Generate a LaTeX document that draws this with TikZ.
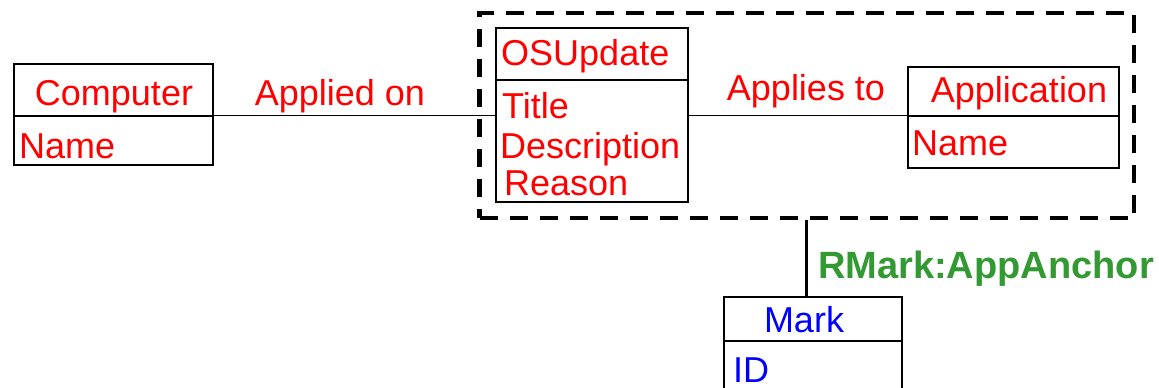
\documentclass[tikz,border=0pt]{standalone}
\usepackage{xcolor}
\usepackage{fontspec}
\setmainfont{Liberation Sans}
\usepackage{tikz}
\usetikzlibrary{calc}
\usetikzlibrary{fit}
\usetikzlibrary{positioning}
\definecolor{relgreen}{RGB}{51,153,51}
\tikzset{>=latex}
\tikzstyle{box} = [rectangle, draw=black, line width=1.2pt, inner sep=0pt]
\tikzstyle{lbl} = [inner sep=0pt, font=\fontsize{36}{38}\selectfont]
\tikzstyle{grp} = [rectangle, draw=black, line width=4.5pt, dash pattern=on 18pt off 12pt, inner sep=0pt]

\begin{document}
\begin{tikzpicture}[x=1pt, y=-1pt]
\useasboundingbox (0,0) rectangle (1159,388);
\node [box, fit={(14,64) (213,116)}] (comphead) {};
\node [box, fit={(14,116) (213,165)}] (compbody) {};
\node [box, fit={(496,28) (688,80)}] (updhead) {};
\node [box, fit={(496,80) (688,202)}] (updbody) {};
\node [box, fit={(908,67) (1119,116)}] (apphead) {};
\node [box, fit={(908,116) (1119,168)}] (appbody) {};
\node [box, fit={(724,297) (902,341)}] (markhead) {};
\node [box, fit={(724,341) (902,430)}] (markbody) {};
\node [grp, fit={(479.5,13) (1134,218)}] (upgrp) {};

\node [lbl, red, anchor=base] (comptxt) at (114,105) {Computer};
\node [lbl, red, anchor=base west] (compname) at (19,158) {Name};
\node [lbl, red, anchor=base west] (updtxt) at (501,65) {OSUpdate};
\node [lbl, red, anchor=base west] (title) at (502,118) {Title};
\node [lbl, red, anchor=base west] (descr) at (500,158) {Description};
\node [lbl, red, anchor=base west] (reason) at (504,195) {Reason};
\node [lbl, red, anchor=base] (apptxt) at (1019,102) {Application};
\node [lbl, red, anchor=base west] (appname) at (912,155) {Name};
\node [lbl, blue, anchor=base] (marktxt) at (804,332) {Mark};
\node [lbl, blue, anchor=base west] (markid) at (733,382) {ID};

\draw [-, line width=1.2pt] (compbody.north east) to (compbody.north east -| updbody.west);
\draw [-, line width=1.2pt] (appbody.north west -| updbody.east) to (appbody.north west);
\draw [-, line width=3pt] (upgrp.south) to (upgrp.south |- markhead.north);

\node [lbl, red, anchor=base] (appliedon) at (340,105) {Applied on};
\node [lbl, red, anchor=base] (appliesto) at (806,100) {Applies to};
\node [lbl, relgreen, anchor=base, font=\fontsize{38}{40}\selectfont\bfseries] (anchorlbl) at (986,278) {RMark:AppAnchor};
\end{tikzpicture}
\end{document}
